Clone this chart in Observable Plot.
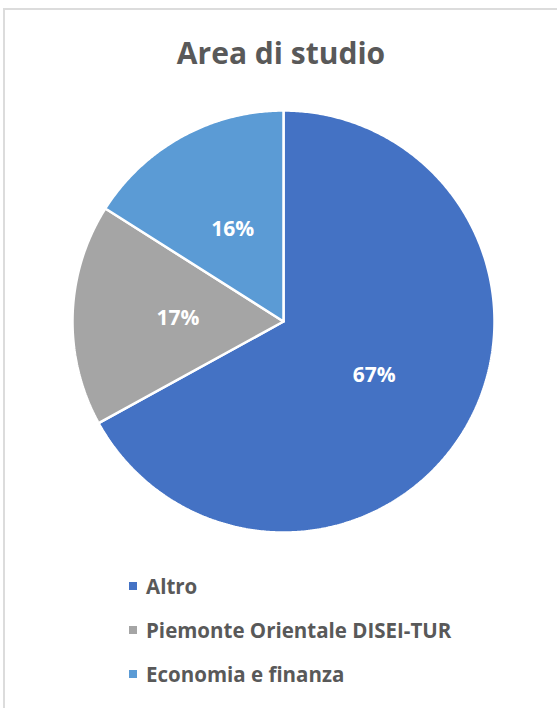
<!DOCTYPE html>
<html><head><meta charset="utf-8">
<script src="https://cdn.jsdelivr.net/npm/d3@7"></script>
<script src="https://cdn.jsdelivr.net/npm/@observablehq/plot@0.6"></script>
<style>
body{margin:0;background:#fff;}
#frame{position:relative;width:557px;height:708px;overflow:hidden;font-family:"Open Sans",sans-serif;}
#border{position:absolute;left:3px;top:8px;right:-10px;bottom:-10px;border-top:2px solid #dcdcdc;border-left:2px solid #dcdcdc;}
#title{position:absolute;left:5px;width:552px;top:38px;text-align:center;font-weight:700;font-size:30px;line-height:1;color:#595959;}
#chart{position:absolute;left:0;top:100px;}
#legend{position:absolute;left:129px;top:564px;}
.item{display:flex;align-items:center;height:44px;line-height:44px;font-size:20.5px;font-weight:700;color:#595959;white-space:nowrap;}
.sw{width:8px;height:8px;margin-right:9px;flex:none;}
</style></head>
<body>
<div id="frame">
  <div id="border"></div>
  <div id="title">Area di studio</div>
  <div id="chart"></div>
  <div id="legend"></div>
</div>
<script>
const categories = ["Altro", "Piemonte Orientale DISEI-TUR", "Economia e finanza"];
const values = [67, 17, 16];
const colors = ["#4472C4", "#A5A5A5", "#5B9BD5"];

const arcs = d3.pie().sort(null).value(d => d)(values);
const total = d3.sum(values);
const pts = [];
arcs.forEach((a, i) => {
  const cat = categories[i];
  pts.push({cat, x: 0, y: 0});
  const n = Math.max(2, Math.ceil((a.endAngle - a.startAngle) / (Math.PI / 360)));
  for (let k = 0; k <= n; k++) {
    const t = a.startAngle + (a.endAngle - a.startAngle) * k / n;
    pts.push({cat, x: Math.sin(t), y: Math.cos(t)});
  }
  pts.push({cat, x: 0, y: 0});
});
const labels = arcs.map((a, i) => {
  const m = (a.startAngle + a.endAngle) / 2;
  return {x: 0.5 * Math.sin(m), y: 0.5 * Math.cos(m), text: Math.round(100 * values[i] / total) + "%"};
});

const chart = Plot.plot({
  width: 557, height: 440, margin: 0,
  style: {fontFamily: "Open Sans", background: "transparent"},
  x: {domain: [-1, 1], range: [72, 494], axis: null},
  y: {domain: [-1, 1], range: [432, 10], axis: null},
  color: {domain: categories, range: colors},
  marks: [
    Plot.line(pts, {x: "x", y: "y", z: "cat", fill: "cat", stroke: "white", strokeWidth: 2.5, strokeLinejoin: "miter"}),
    Plot.text(labels, {x: "x", y: "y", text: "text", fill: "white", fontSize: 21, fontWeight: "bold"})
  ]
});
document.getElementById("chart").appendChild(chart);

const legend = document.getElementById("legend");
categories.forEach((c, i) => {
  const item = document.createElement("div");
  item.className = "item";
  const sw = document.createElement("span");
  sw.className = "sw";
  sw.style.background = colors[i];
  item.appendChild(sw);
  item.appendChild(document.createTextNode(c));
  legend.appendChild(item);
});
</script>
</body></html>
